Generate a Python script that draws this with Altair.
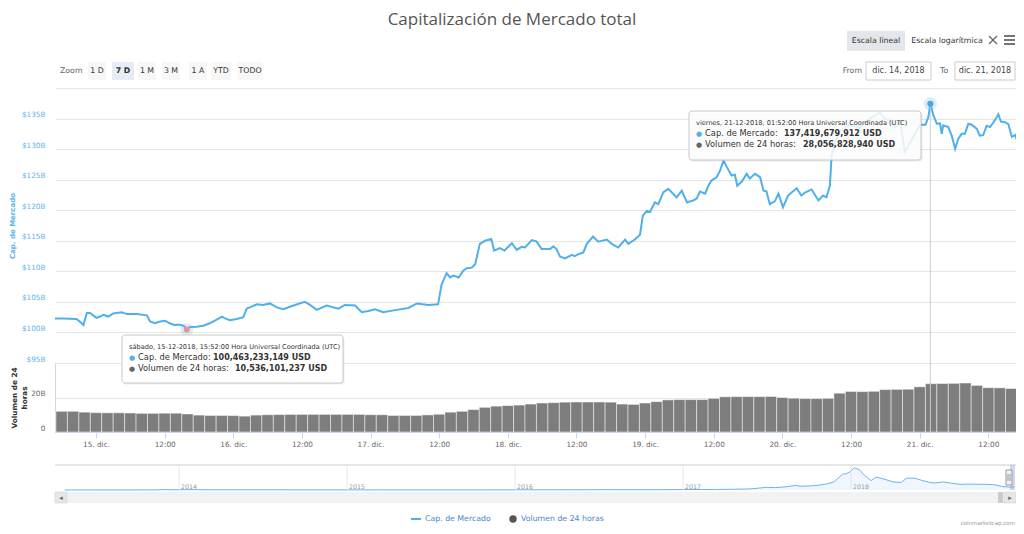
import altair as alt
import pandas as pd

# ---------------- data ----------------
# hours since 15 Dec 2018 00:00 UTC, market cap in billions USD
cap_hours = [-7.17, -5.7, -3.4, -2.5, -2.2, -1.6, -1.05, -0.5, 0.1, 0.7,
             1.3, 2.15, 3.0, 4.5, 5.4, 7.1, 8.9, 9.45, 10.3, 11.2,
             12.1, 12.9, 13.8, 14.4, 15.3, 15.87, 16.4, 17.6, 18.75, 19.9,
             21.1, 22.0, 22.55, 23.4, 24.6, 25.75, 26.35, 26.9, 28.1, 29.25,
             30.4, 31.6, 32.75, 33.9, 34.8, 36.5, 37.4, 38.6, 40.3, 42.4,
             43.5, 45.3, 46.45, 47.6, 48.8, 50.2, 52.3, 54.6, 56.1, 58.1,
             59.8, 60.4, 61.3, 61.9, 62.5, 63.4, 64.2, 64.8, 65.7, 66.3,
             67.1, 68.0, 69.1, 69.6, 70.6, 71.4, 72.7, 73.55, 74.4, 75.0,
             76.2, 77.0, 77.9, 79.4, 79.95, 80.5, 81.1, 82.0, 83.2, 83.7,
             84.3, 85.2, 85.8, 86.9, 87.8, 89.3, 90.15, 91.3, 92.5, 93.05,
             94.2, 95.1, 95.6, 96.3, 96.85, 97.7, 98.3, 99.2, 100.05, 100.9,
             101.5, 102.4, 103.3, 104.4, 105.0, 105.6, 106.5, 107.05, 107.6, 108.5,
             109.1, 109.7, 110.3, 111.1, 111.7, 112.1, 112.9, 113.75, 114.3, 115.2,
             116.1, 116.7, 117.2, 117.8, 118.7, 119.3, 120.1, 121.0, 121.6, 122.5,
             123.3, 123.95, 125.1, 126.3, 127.1, 127.7, 128.3, 128.6, 129.2, 130.1,
             131.8, 133.6, 135.3, 137.1, 137.9, 138.8, 139.7, 140.6, 141.4, 142.3,
             143.2, 144.1, 145.0, 145.5, 145.87, 146.4, 147.0, 147.55, 147.85, 148.1,
             149.0, 149.6, 150.2, 150.75, 151.35, 151.9, 152.5, 153.1, 154.0, 154.5,
             155.1, 155.7, 156.3, 156.9, 157.5, 157.75, 158.2, 158.9, 159.5, 160.1,
             160.7, 161.2, 161.5]
cap_values = [102.3, 102.3, 102.2, 101.5, 101.2, 103.2, 103.2, 102.8, 102.4, 102.6,
              102.9, 102.6, 103.1, 103.3, 103.0, 103.0, 102.8, 101.8, 101.5, 101.8,
              101.9, 101.5, 101.2, 101.3, 101.1, 100.46, 100.9, 100.95, 101.1, 101.5,
              102.1, 102.6, 102.3, 102.0, 102.2, 102.5, 103.9, 104.1, 104.6, 104.5,
              104.75, 104.1, 103.8, 104.2, 104.5, 105.0, 104.5, 103.7, 104.4, 103.9,
              104.5, 104.4, 103.3, 103.5, 103.8, 103.3, 103.65, 104.0, 104.75, 104.5,
              104.6, 107.8, 109.7, 109.0, 109.3, 109.0, 110.1, 110.5, 110.6, 111.2,
              114.5, 115.0, 115.3, 113.4, 113.8, 113.4, 114.6, 113.5, 114.0, 113.9,
              115.1, 114.9, 113.65, 113.65, 114.1, 113.65, 112.45, 112.1, 112.7, 112.5,
              112.8, 113.1, 114.5, 115.7, 114.85, 115.2, 114.5, 113.9, 115.2, 114.5,
              115.2, 116.0, 119.1, 119.9, 119.7, 121.3, 121.0, 122.95, 123.5, 122.7,
              122.1, 123.2, 121.3, 121.6, 121.9, 123.05, 122.7, 124.0, 124.85, 125.4,
              126.5, 128.1, 127.05, 125.7, 125.8, 124.0, 124.7, 125.95, 125.2, 125.95,
              125.4, 123.2, 123.1, 121.0, 121.5, 122.7, 120.5, 122.4, 122.9, 123.6,
              122.4, 122.9, 123.4, 121.6, 122.4, 122.1, 124.0, 128.9, 131.0, 133.0,
              134.0, 133.5, 135.0, 136.0, 135.0, 134.7, 133.5, 134.5, 129.5, 131.0,
              132.5, 134.0, 134.0, 135.2, 137.42, 135.5, 134.15, 134.2, 132.5, 133.9,
              133.6, 132.2, 130.05, 131.7, 132.5, 132.5, 134.15, 134.0, 133.3, 132.2,
              132.3, 133.8, 133.6, 134.4, 135.25, 135.7, 134.5, 134.4, 134.1, 132.0,
              132.3, 130.9, 130.8]
assert len(cap_hours) == len(cap_values)

# 24h volume bars (start hour of each bar, billions USD)
vol_start_hours = [-7, -5, -3, -1, 1, 3, 5, 7, 9, 11, 13, 15, 17, 19, 21, 23, 25, 27, 29, 31,
                   33, 35, 37, 39, 41, 43, 45, 47, 49, 51, 53, 55, 57, 59, 61, 63, 65, 67, 69, 71,
                   73, 75, 77, 79, 81, 83, 85, 87, 89, 91, 93, 95, 97, 99, 101, 103, 105, 107, 109, 111,
                   113, 115, 117, 119, 121, 123, 125, 127, 129, 131, 133, 135, 137, 139, 141, 143, 145, 147, 149, 151,
                   153, 155, 157, 159]
vol_values = [12.0, 12.0, 11.5, 11.2, 11.1, 11.1, 11.0, 10.8, 10.8, 10.9, 10.9, 10.5, 9.8, 9.6, 9.6, 9.5, 9.2, 9.8, 10.0, 10.1,
              10.2, 10.2, 10.2, 10.2, 10.2, 10.2, 10.2, 10.0, 10.0, 9.6, 9.6, 9.6, 9.9, 10.3, 11.5, 12.0, 13.0, 14.3, 15.0, 15.3,
              15.6, 16.2, 16.8, 17.0, 17.3, 17.4, 17.4, 17.4, 17.3, 16.2, 16.0, 16.8, 17.6, 18.6, 18.8, 18.8, 18.8, 19.5, 20.4, 20.5,
              20.5, 20.5, 20.6, 20.0, 19.6, 19.4, 19.4, 19.5, 22.5, 23.5, 23.4, 23.6, 24.6, 24.7, 24.8, 26.2, 28.0, 28.1, 28.2, 28.4,
              27.0, 25.7, 25.6, 25.2]
assert len(vol_start_hours) == len(vol_values)

# navigator: whole history (decimal year, total cap in billions)
nav_years = [2013.32, 2013.5, 2013.75, 2013.85, 2013.92, 2013.96, 2014.0, 2014.1, 2014.2, 2014.4,
             2014.5, 2014.7, 2014.9, 2015.0, 2015.2, 2015.5, 2015.8, 2015.9, 2016.0, 2016.2,
             2016.45, 2016.5, 2016.7, 2016.9, 2017.0, 2017.2, 2017.3, 2017.4, 2017.45, 2017.5,
             2017.55, 2017.6, 2017.67, 2017.7, 2017.75, 2017.8, 2017.85, 2017.9, 2017.95, 2017.97,
             2018.0, 2018.02, 2018.05, 2018.08, 2018.1, 2018.12, 2018.15, 2018.2, 2018.25, 2018.3,
             2018.33, 2018.38, 2018.42, 2018.47, 2018.5, 2018.55, 2018.6, 2018.65, 2018.7, 2018.8,
             2018.85, 2018.9, 2018.95, 2018.97]
nav_values = [1.5, 1.2, 1.8, 5, 14, 9, 10, 12, 8, 7,
              8, 6, 5, 4.5, 4, 4.5, 4.5, 6.5, 7, 7,
              10, 12, 11, 12, 17, 20, 28, 40, 70, 100,
              90, 110, 170, 140, 150, 170, 220, 300, 590, 600,
              700, 830, 750, 550, 450, 350, 480, 400, 300, 280,
              440, 440, 360, 280, 260, 300, 250, 210, 220, 210,
              200, 130, 105, 130]
assert len(nav_years) == len(nav_values)
nav_tick_years = [2014, 2015, 2016, 2017, 2018]

x_tick_hours = [0, 12, 24, 36, 48, 60, 72, 84, 96, 108, 120, 132, 144, 156]
x_tick_labels = ["15. dic.", "12:00", "16. dic.", "12:00", "17. dic.", "12:00", "18. dic.",
                 "12:00", "19. dic.", "12:00", "20. dic.", "12:00", "21. dic.", "12:00"]
cap_ticks = [95, 100, 105, 110, 115, 120, 125, 130, 135, 140]
vol_ticks = [0, 20, 40]

hover_hours = [15.8667, 145.8667]
hover_caps = [100.463233149, 137.419679912]
hover_vols = [10.536101237, 28.056828940]
hover_dates = ["sábado, 15-12-2018, 15:52:00 Hora Universal Coordinada (UTC)",
               "viernes, 21-12-2018, 01:52:00 Hora Universal Coordinada (UTC)"]

# ---------------- layout helpers ----------------
X0, Y0 = 55, 88          # page position of plot origin
W, H = 961, 344          # plot area (main + volume panes)
FONT = "DejaVu Sans"
BLUE = "#4fb0ea"
LABEL_BLUE = "#5db5ea"
ONE = pd.DataFrame({"k": [0]})


def px(x):
    return x - X0


def py(y):
    return y - Y0


def T(t, x, y, size=7.8, color="#333333", weight="normal", align="left", font=FONT):
    return alt.Chart(ONE).mark_text(text=t, fontSize=size, color=color, fontWeight=weight,
                                    align=align, baseline="middle", font=font).encode(
        x=alt.value(px(x)), y=alt.value(py(y)))


def R(x1, x2, y1, y2, fill, stroke=None, sw=1, fop=1.0, op=1.0, radius=0):
    kw = dict(fill=fill, fillOpacity=fop, opacity=op, cornerRadius=radius)
    if stroke:
        kw.update(stroke=stroke, strokeWidth=sw)
    else:
        kw.update(strokeWidth=0)
    return alt.Chart(ONE).mark_rect(**kw).encode(
        x=alt.value(px(x1)), x2=alt.value(px(x2)), y=alt.value(py(y1)), y2=alt.value(py(y2)))


def L(x1, y1, x2, y2, color, width=1.0):
    return alt.Chart(ONE).mark_rule(color=color, strokeWidth=width).encode(
        x=alt.value(px(x1)), x2=alt.value(px(x2)), y=alt.value(py(y1)), y2=alt.value(py(y2)))


# ---------------- scales ----------------
X_MAIN = alt.Scale(domain=[-7.17, -7.17 + W / 5.72], nice=False, zero=False)
Y_MAIN = alt.Scale(domain=[95, 140], range=[275, 0], nice=False, zero=False)
Y_VOL = alt.Scale(domain=[0, 40], range=[344, 275], nice=False, zero=False)
X_NAV = alt.Scale(domain=[2013.262, 2013.262 + W / 168.0], nice=False, zero=False)
Y_NAV = alt.Scale(domain=[0, 930], range=[py(490), py(465)], nice=False, zero=False)

lbl_expr = "''"
for hh, ll in reversed(list(zip(x_tick_hours, x_tick_labels))):
    lbl_expr = f"datum.value == {hh} ? '{ll}' : ({lbl_expr})"

x_axis = alt.Axis(orient="bottom", values=x_tick_hours, labelExpr=lbl_expr, title=None, grid=False,
                  domainColor="#ccd6eb", tickColor="#ccd6eb", tickSize=6, labelPadding=2,
                  labelColor="#666666", labelFontSize=7.3, labelFont=FONT,
                  labelFlush=False, labelOverlap=False)

y_axis_main = alt.Axis(orient="left", values=cap_ticks,
                       labelExpr="datum.value >= 140 ? '' : '$' + datum.value + 'B'",
                       title="Cap. de Mercado", grid=True, gridColor="#e6e6e6", domain=False,
                       ticks=False, tickSize=0, labelPadding=10, labelBaseline="bottom",
                       labelColor=LABEL_BLUE, labelFontSize=7.3, labelFont=FONT,
                       labelFlush=False, labelOverlap=False,
                       titleColor=LABEL_BLUE, titleFont=FONT, titleFontSize=7, titleFontWeight="bold",
                       titleAngle=270, titleX=-43, titleY=137.5, titleAlign="center",
                       titleBaseline="middle")

y_axis_vol = alt.Axis(orient="left", values=vol_ticks,
                      labelExpr="datum.value == 0 ? '0' : (datum.value == 20 ? '20B' : '')",
                      title=["Volumen de 24", "horas"], grid=True, gridColor="#e6e6e6",
                      domain=True, domainColor="#ccd6eb", ticks=False, tickSize=0,
                      labelPadding=10, labelBaseline="bottom", labelColor="#666666",
                      labelFontSize=7.3, labelFont=FONT, labelFlush=False, labelOverlap=False,
                      titleColor="#333333", titleFont=FONT, titleFontSize=7.3,
                      titleFontWeight="bold", titleAngle=270, titleX=-41, titleY=309.5,
                      titleAlign="center", titleBaseline="middle", titleLineHeight=10)

# ---------------- data layers ----------------
cap_df = pd.DataFrame({"h": cap_hours, "v": cap_values})
vol_df = pd.DataFrame({"h0": vol_start_hours, "vol": vol_values})
vol_df["h1"] = vol_df["h0"] + 2
hover_df = pd.DataFrame({"h": hover_hours, "v": hover_caps,
                         "c": ["#e8939b", "#4aa8e8"]})
cross_df = hover_df.iloc[[1]]
nav_df = pd.DataFrame({"yr": nav_years, "b": nav_values})
navt_df = pd.DataFrame({"yr": nav_tick_years, "t": [str(y) for y in nav_tick_years]})

bars = alt.Chart(vol_df).mark_rect(color="#7d7d7d", stroke="#ffffff", strokeWidth=0.6,
                                   strokeOpacity=0.8, clip=True).encode(
    x=alt.X("h0:Q", scale=X_MAIN, axis=None), x2="h1:Q",
    y=alt.Y("vol:Q", scale=Y_VOL, axis=y_axis_vol), y2=alt.datum(0))

line = alt.Chart(cap_df).mark_line(color=BLUE, strokeWidth=2, clip=True).encode(
    x=alt.X("h:Q", scale=X_MAIN, axis=x_axis),
    y=alt.Y("v:Q", scale=Y_MAIN, axis=y_axis_main))

cross = alt.Chart(cross_df).mark_rule(color="#cccccc", strokeWidth=1).encode(
    x=alt.X("h:Q", scale=X_MAIN, axis=None), y=alt.value(py(106)), y2=alt.value(H))

halo = alt.Chart(hover_df).mark_circle(size=170, opacity=0.25, color="#7cb5ec").encode(
    x=alt.X("h:Q", scale=X_MAIN, axis=None), y=alt.Y("v:Q", scale=Y_MAIN, axis=None))
dots = alt.Chart(hover_df).mark_circle(size=38, opacity=1).encode(
    x=alt.X("h:Q", scale=X_MAIN, axis=None), y=alt.Y("v:Q", scale=Y_MAIN, axis=None),
    color=alt.Color("c:N", scale=None))

# navigator lies outside the plot area, so no clipping here
nav_area = alt.Chart(nav_df).mark_area(color="#7cb5ec", fillOpacity=0.12).encode(
    x=alt.X("yr:Q", scale=X_NAV, axis=None), y=alt.Y("b:Q", scale=Y_NAV, axis=None))
nav_line = alt.Chart(nav_df).mark_line(color="#6fb2ea", strokeWidth=1).encode(
    x=alt.X("yr:Q", scale=X_NAV, axis=None), y=alt.Y("b:Q", scale=Y_NAV, axis=None))
nav_grid = alt.Chart(navt_df).mark_rule(color="#e6e6e6", strokeWidth=1).encode(
    x=alt.X("yr:Q", scale=X_NAV, axis=None), y=alt.value(py(465)), y2=alt.value(py(490)))
nav_lbl = alt.Chart(navt_df).mark_text(align="left", baseline="middle", dx=2, fontSize=6.3,
                                       color="#999999", font=FONT).encode(
    x=alt.X("yr:Q", scale=X_NAV, axis=None), y=alt.value(py(486.5)), text="t:N")


def fmt(b):
    return "{:,}".format(int(round(b * 1e9))) + " USD"


def tooltip(x1, x2, y1, y2, i, vx1, vx2, fop):
    ys = [y1 + 12, y1 + 23, y1 + 34]
    return [
        R(x1 + 1, x2 + 1.5, y1 + 1.5, y2 + 1.5, "#000000", op=0.08, radius=3),
        R(x1, x2, y1, y2, "#ffffff", stroke="#c9c9c9", sw=1, fop=fop, radius=3),
        T(hover_dates[i], x1 + 7, ys[0], 6.6, "#333333"),
        T("●", x1 + 10, ys[1], 7, BLUE, align="center"),
        T("Cap. de Mercado:", x1 + 16, ys[1], 8.3, "#333333"),
        T(fmt(hover_caps[i]), vx1, ys[1], 8, "#333333", weight="bold"),
        T("●", x1 + 10, ys[2], 7, "#666666", align="center"),
        T("Volumen de 24 horas:", x1 + 16, ys[2], 8.3, "#333333"),
        T(fmt(hover_vols[i]), vx2, ys[2], 8, "#333333", weight="bold"),
    ]


# ---------------- chrome ----------------
chrome = [
    T("Capitalización de Mercado total", 512, 19.5, 17, "#555555", align="center", font="Open Sans"),
    R(847, 905, 31, 51, "#e3e6ea"),
    T("Escala lineal", 876, 41, 7.8, "#333333", align="center"),
    T("Escala logarítmica", 947, 41, 7.8, "#333333", align="center"),
    L(989, 36, 997, 44, "#666666", 1.3),
    L(997, 36, 989, 44, "#666666", 1.3),
    L(1004, 36, 1015, 36, "#666666", 1.8),
    L(1004, 40, 1015, 40, "#666666", 1.8),
    L(1004, 44, 1015, 44, "#666666", 1.8),
    T("Zoom", 60, 71, 7.8, "#666666"),
]
buttons = [("1 D", 97, 18, False), ("7 D", 123, 22, True), ("1 M", 147, 18, False),
           ("3 M", 171, 18, False), ("1 A", 198, 18, False), ("YTD", 221, 20, False),
           ("TODO", 250, 25, False)]
for lab, cx, bw, sel in buttons:
    chrome.append(R(cx - bw / 2, cx + bw / 2, 62, 80, "#e6ebf5" if sel else "#f7f7f7"))
    chrome.append(T(lab, cx, 71, 7.8, "#333333", weight="bold" if sel else "normal", align="center"))
chrome += [
    T("From", 862, 71, 7.8, "#666666", align="right"),
    R(866, 931, 62, 80, "#ffffff", stroke="#cccccc"),
    T("dic. 14, 2018", 898.5, 71, 8, "#444444", align="center"),
    T("To", 940, 71, 7.8, "#666666"),
    R(955, 1015, 62, 80, "#ffffff", stroke="#cccccc"),
    T("dic. 21, 2018", 985, 71, 8, "#444444", align="center"),
    # navigator frame, mask & handle
    L(55, 465, 1016, 465, "#cccccc", 1),
    R(1010, 1015, 465, 490, "#6685c2", op=0.3),
    R(1006, 1012, 470, 485, "#f2f2f2", stroke="#999999", sw=1),
    L(1008, 474, 1008, 481, "#999999", 1),
    L(1010, 474, 1010, 481, "#999999", 1),
    # scrollbar
    R(55, 1016, 492, 503, "#f2f2f2"),
    R(55, 67, 492, 503, "#e6e6e6", stroke="#cccccc", sw=0.5),
    T("◂", 61, 497.5, 7, "#666666", align="center"),
    R(998, 1003, 492, 503, "#cccccc"),
    R(1004, 1016, 492, 503, "#e6e6e6", stroke="#cccccc", sw=0.5),
    T("▸", 1010, 497.5, 7, "#666666", align="center"),
    # legend
    L(411, 519, 421, 519, BLUE, 2),
    T("Cap. de Mercado", 425, 519, 7.8, "#4a86c8"),
    alt.Chart(ONE).mark_circle(size=55, color="#555555", opacity=1).encode(
        x=alt.value(px(513)), y=alt.value(py(519))),
    T("Volumen de 24 horas", 521, 519, 7.8, "#4a86c8"),
    T("coinmarketcap.com", 1015, 523, 5.5, "#999999", align="right"),
]

layers = ([bars, line, cross, halo, dots, nav_area, nav_line, nav_grid, nav_lbl]
          + tooltip(122, 343, 335, 383, 0, 213, 235, 1.0)
          + tooltip(689, 921, 111, 160, 1, 784, 803, 0.85)
          + chrome)

chart = alt.layer(*layers).resolve_scale(
    x="independent", y="independent", color="independent"
).properties(
    width=W, height=H,
    autosize=alt.AutoSizeParams(type="none"),
    padding={"left": X0 - 8, "top": Y0 - 8, "right": 0, "bottom": 518 - (Y0 - 8) - H},
    background="white",
).configure_view(stroke=None)

chart.save("out.html", embed_options={"renderer": "svg", "actions": False})
